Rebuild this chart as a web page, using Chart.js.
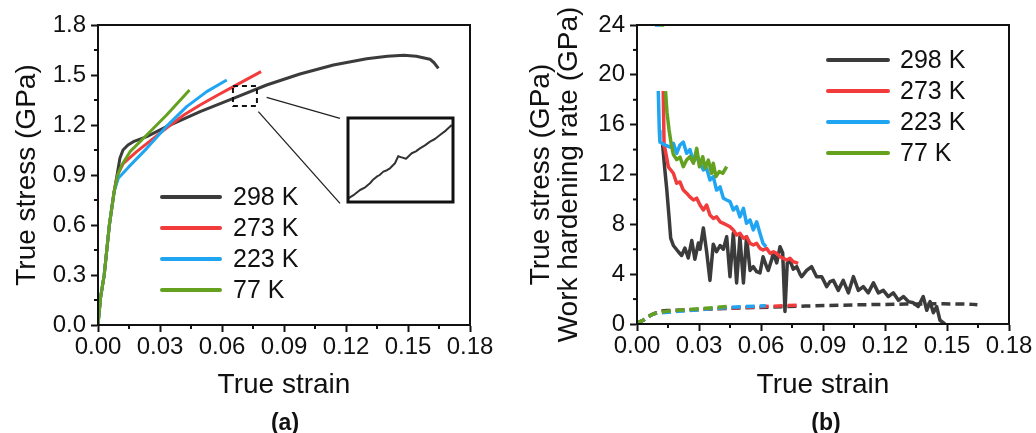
<!DOCTYPE html>
<html><head><meta charset="utf-8">
<script src="https://cdn.jsdelivr.net/npm/chart.js@4.4.1/dist/chart.umd.min.js"></script>
<style>
html,body{margin:0;padding:0;background:#fff;}
#wrap{position:relative;width:1036px;height:433px;overflow:hidden;background:#fff;}
#cA{position:absolute;left:0;top:0;}
#cB{position:absolute;left:520px;top:0;}
#cI{position:absolute;left:346px;top:116px;}
.lab{position:absolute;top:408px;width:60px;text-align:center;font:bold 23px 'Liberation Sans',Arial,sans-serif;line-height:28px;color:#111;}
</style></head>
<body><div id="wrap">
<canvas id="cA" width="500" height="433"></canvas>
<canvas id="cB" width="516" height="433"></canvas>
<canvas id="cI" width="109" height="88"></canvas>
<div class="lab" style="left:255px">(a)</div>
<div class="lab" style="left:796px">(b)</div>
</div>
<script>
// ---------- tick values ----------
const strainTicks = [0, 0.03, 0.06, 0.09, 0.12, 0.15, 0.18];
const stressTicks = [0, 0.3, 0.6, 0.9, 1.2, 1.5, 1.8];
const rateTicks = [0, 4, 8, 12, 16, 20, 24];
const seriesLabels = ['298 K', '273 K', '223 K', '77 K'];

// ---------- (a) true stress-strain ----------
const strain298 = [0, 0.0013, 0.003, 0.0055, 0.0078, 0.0095, 0.0106, 0.0121, 0.0145, 0.0171, 0.0236, 0.0332, 0.0494, 0.0655, 0.0816, 0.0977, 0.1139, 0.130, 0.140, 0.148, 0.154, 0.1606, 0.1625, 0.1647];
const stress298 = [0, 0.17, 0.3, 0.6, 0.8, 0.92, 1.0, 1.05, 1.08, 1.10, 1.13, 1.19, 1.28, 1.36, 1.44, 1.506, 1.56, 1.598, 1.612, 1.618, 1.612, 1.595, 1.575, 1.54];
const strain273 = [0, 0.0013, 0.003, 0.0055, 0.0078, 0.0098, 0.0123, 0.0187, 0.0268, 0.033, 0.0415, 0.0494, 0.058, 0.0655, 0.0789];
const stress273 = [0, 0.17, 0.3, 0.6, 0.8, 0.91, 0.97, 1.04, 1.12, 1.18, 1.26, 1.32, 1.38, 1.43, 1.52];
const strain223 = [0, 0.0013, 0.003, 0.0055, 0.0078, 0.0098, 0.015, 0.0236, 0.033, 0.0429, 0.0526, 0.0623];
const stress223 = [0, 0.17, 0.3, 0.6, 0.8, 0.88, 0.95, 1.06, 1.19, 1.31, 1.40, 1.47];
const strain77 = [0, 0.0013, 0.003, 0.0055, 0.0078, 0.0095, 0.0115, 0.0155, 0.0236, 0.0332, 0.0443];
const stress77 = [0, 0.17, 0.3, 0.6, 0.8, 0.9, 0.96, 1.04, 1.14, 1.26, 1.41];

// zoom window (dashed box) and connector lines, in strain / stress units
const zoomBoxStrain = [0.0653, 0.0769, 0.0769, 0.0653, 0.0653];
const zoomBoxStress = [1.434, 1.434, 1.314, 1.314, 1.434];
const link1Strain = [0.0816, 0.1171];
const link1Stress = [1.366, 1.240];
const link2Strain = [0.0776, 0.1171];
const link2Stress = [1.280, 0.730];

// inset: magnified piece of the 298 K curve
const insetStrainRange = [0.0653, 0.0769];
const insetStressRange = [1.355, 1.425];
const insetStrain = [0.06533, 0.0660, 0.06663, 0.0672, 0.06773, 0.0681, 0.06847, 0.0688, 0.0692, 0.0696, 0.06994, 0.07049, 0.07086, 0.07105, 0.07123, 0.07171, 0.07234, 0.0728, 0.07325, 0.0738, 0.07436, 0.0749, 0.07546, 0.0761, 0.07676];
const insetStress = [1.3581, 1.3612, 1.3650, 1.3672, 1.3706, 1.3738, 1.3761, 1.3775, 1.3803, 1.3815, 1.3831, 1.3873, 1.3933, 1.3925, 1.3922, 1.3911, 1.3956, 1.3972, 1.3997, 1.4022, 1.4053, 1.4075, 1.4108, 1.4145, 1.4192];

// ---------- (b) work hardening rate ----------
const whStrain298 = [0.0124, 0.0134, 0.0144, 0.0156, 0.0163, 0.0176, 0.020, 0.0216, 0.0232, 0.0248, 0.0265, 0.028, 0.0297, 0.0305, 0.0321, 0.0337, 0.0353, 0.0369, 0.0385, 0.0402, 0.0418, 0.0434, 0.045, 0.0466, 0.0482, 0.0498, 0.0515, 0.053, 0.0547, 0.0563, 0.0579, 0.0595, 0.061, 0.0627, 0.0635, 0.0652, 0.066, 0.0676, 0.0692, 0.0705, 0.0716, 0.0727, 0.074, 0.0756, 0.0773, 0.0789, 0.0797, 0.0821, 0.0845, 0.0869, 0.0894, 0.0918, 0.0934, 0.095, 0.0974, 0.0998, 0.1023, 0.1047, 0.1071, 0.1095, 0.1119, 0.1144, 0.1168, 0.1192, 0.1216, 0.124, 0.1265, 0.1289, 0.1313, 0.1337, 0.1361, 0.1385, 0.1402, 0.1418, 0.1434, 0.145, 0.1466, 0.149];
const whRate298 = [14.4, 12.5, 10.8, 8.4, 6.9, 6.3, 5.8, 5.5, 6.1, 5.3, 6.7, 5.2, 6.5, 6.0, 7.7, 5.8, 3.5, 6.4, 5.8, 6.3, 6.0, 7.0, 3.8, 7.3, 3.3, 7.0, 3.3, 7.0, 4.3, 4.6, 4.2, 4.1, 5.4, 4.6, 4.3, 5.2, 5.7, 4.9, 6.2, 5.7, 1.0, 4.9, 5.1, 4.4, 4.6, 4.0, 3.8, 4.3, 4.6, 3.8, 3.8, 3.0, 3.4, 3.5, 2.7, 3.5, 2.5, 3.8, 2.7, 3.0, 2.5, 3.3, 2.5, 2.7, 2.2, 2.5, 1.9, 2.2, 1.8, 1.7, 1.4, 2.2, 1.1, 1.8, 0.9, 1.4, 0.3, 0.0];
const whStrain273 = [0.0127, 0.0131, 0.0135, 0.0152, 0.0176, 0.0192, 0.0208, 0.0224, 0.024, 0.0256, 0.0273, 0.0289, 0.0305, 0.0321, 0.0337, 0.0353, 0.0369, 0.0385, 0.0402, 0.0418, 0.0434, 0.045, 0.0466, 0.0482, 0.0498, 0.0515, 0.053, 0.0547, 0.0563, 0.0579, 0.0595, 0.061, 0.0627, 0.0644, 0.066, 0.0676, 0.0692, 0.0708, 0.0724, 0.074, 0.0756, 0.078];
const whRate273 = [18.7, 14.3, 14.1, 12.6, 12.1, 11.3, 11.4, 10.75, 10.5, 10.2, 9.95, 10.1, 9.55, 9.15, 9.55, 8.75, 8.48, 8.6, 8.2, 8.08, 7.95, 7.8, 7.55, 7.14, 7.28, 6.88, 7.0, 6.47, 6.34, 6.47, 6.07, 5.94, 6.07, 5.67, 5.8, 5.67, 5.4, 5.27, 5.14, 5.27, 5.0, 4.87];
const whStrain223 = [0.0087, 0.0112, 0.0112, 0.0103, 0.0108, 0.0111, 0.0135, 0.016, 0.0176, 0.0192, 0.0208, 0.0224, 0.024, 0.0256, 0.0265, 0.0281, 0.029, 0.0305, 0.0321, 0.0337, 0.0353, 0.0369, 0.0385, 0.0402, 0.0418, 0.0434, 0.045, 0.0466, 0.0482, 0.0498, 0.0515, 0.053, 0.0547, 0.0563, 0.0579, 0.0595, 0.061, 0.0624];
const whRate223 = [24, 24, null, 18.7, 15.5, 14.6, 14.37, 14.2, 14.5, 13.7, 14.37, 14.6, 13.7, 14.0, 13.5, 13.16, 13.6, 12.9, 12.36, 12.5, 11.56, 11.83, 10.75, 11.0, 10.09, 9.95, 9.82, 9.15, 9.42, 8.6, 9.28, 8.08, 8.35, 7.55, 8.2, 7.28, 6.47, 6.2];
const whStrain77 = [0.0112, 0.0131, 0.0131, 0.0138, 0.0145, 0.0155, 0.0165, 0.0176, 0.0192, 0.0208, 0.0224, 0.024, 0.0256, 0.0273, 0.0289, 0.0302, 0.0318, 0.0329, 0.0345, 0.0361, 0.0369, 0.0382, 0.0398, 0.0415, 0.0434];
const whRate77 = [24, 24, null, 18.7, 17.0, 15.6, 14.5, 13.6, 13.2, 13.4, 12.63, 13.16, 13.43, 12.9, 14.1, 12.63, 13.43, 12.5, 13.16, 12.1, 12.9, 11.83, 12.23, 12.1, 12.63];

// ---------- styling ----------
const FONT = "'Liberation Sans', Arial, sans-serif";
const INK = '#111';
const colors = ['#3b3b3b', '#f23c3c', '#1fa5f2', '#63a11f'];
const pts = (xs, ys) => xs.map((x, i) => ({x: x, y: ys[i]}));

const frameMinor = {
  id: 'frameMinor',
  afterDraw(chart, args, opts) {
    const {ctx, chartArea: a} = chart;
    ctx.save();
    ctx.strokeStyle = INK; ctx.lineWidth = 2; ctx.setLineDash([]);
    ctx.strokeRect(a.left, a.top, a.right - a.left, a.bottom - a.top);
    if (opts.minor) {
      ['x', 'y'].forEach(id => {
        const s = chart.scales[id];
        const t = s.ticks;
        for (let i = 0; i < t.length - 1; i++) {
          const p = s.getPixelForValue((t[i].value + t[i + 1].value) / 2);
          ctx.beginPath();
          if (id === 'x') { ctx.moveTo(p, a.bottom); ctx.lineTo(p, a.bottom + 4); }
          else { ctx.moveTo(a.left, p); ctx.lineTo(a.left - 4, p); }
          ctx.stroke();
        }
      });
    }
    ctx.restore();
  }
};

const lineLegend = {
  id: 'lineLegend',
  afterDatasetsDraw(chart, args, opts) {
    if (!opts.show) return;
    const {ctx, chartArea: a} = chart;
    ctx.save();
    let row = 0;
    chart.data.datasets.forEach(ds => {
      if (!ds.inLegend) return;
      const y = a.top + opts.top + row * opts.rowH;
      const x0 = a.left + opts.left;
      ctx.strokeStyle = ds.borderColor; ctx.lineWidth = 4; ctx.lineCap = 'round'; ctx.setLineDash([]);
      ctx.beginPath(); ctx.moveTo(x0, y); ctx.lineTo(x0 + opts.len, y); ctx.stroke();
      ctx.fillStyle = INK; ctx.font = '25px ' + FONT; ctx.textBaseline = 'middle'; ctx.textAlign = 'left';
      ctx.fillText(ds.label, x0 + opts.len + opts.gap, y + 1);
      row++;
    });
    ctx.restore();
  }
};

function xAxis(h) {
  return {
    type: 'linear', min: 0, max: 0.18,
    afterBuildTicks: s => { s.ticks = strainTicks.map(v => ({value: v})); },
    afterFit: s => { s.height = h; },
    ticks: {autoSkip: false, maxRotation: 0, padding: 1, color: INK, font: {family: FONT, size: 24},
            callback: v => Number(v).toFixed(2)},
    grid: {display: true, drawOnChartArea: false, drawTicks: true, tickLength: 7, tickWidth: 2, tickColor: INK, color: INK},
    border: {display: true, color: INK, width: 2},
    title: {display: true, text: 'True strain', color: INK, font: {family: FONT, size: 28, lineHeight: 1.0}, padding: {top: 0, bottom: 34}}
  };
}
function yAxis(min, max, tickArr, fmt, w, title, padTop) {
  return {
    type: 'linear', min: min, max: max,
    afterBuildTicks: s => { s.ticks = tickArr.map(v => ({value: v})); },
    afterFit: s => { s.width = w; },
    ticks: {autoSkip: false, padding: 5, color: INK, font: {family: FONT, size: 24}, callback: fmt},
    grid: {display: true, drawOnChartArea: false, drawTicks: true, tickLength: 7, tickWidth: 2, tickColor: INK, color: INK},
    border: {display: true, color: INK, width: 2},
    title: {display: true, text: title, color: INK, font: {family: FONT, size: 28, lineHeight: 1.0}, padding: {top: padTop, bottom: 0}}
  };
}
const baseOpts = {
  responsive: false, animation: false, events: [],
  elements: {point: {radius: 0}, line: {tension: 0, borderJoinStyle: 'round', borderCapStyle: 'butt'}}
};

// ---------- chart (a) ----------
const stressSets = [[strain298, stress298], [strain273, stress273], [strain223, stress223], [strain77, stress77]];
const dsA = stressSets.map((s, i) => ({
  label: seriesLabels[i], inLegend: true, data: pts(s[0], s[1]), showLine: true,
  borderColor: colors[i], borderWidth: 3, order: 4 - i
}));
dsA.push({label: 'box', data: pts(zoomBoxStrain, zoomBoxStress), showLine: true, borderColor: INK, borderWidth: 2, borderDash: [5, 4], order: 0});
dsA.push({label: 'l1', data: pts(link1Strain, link1Stress), showLine: true, borderColor: '#222', borderWidth: 1.3, order: 0});
dsA.push({label: 'l2', data: pts(link2Strain, link2Stress), showLine: true, borderColor: '#222', borderWidth: 1.3, order: 0});

new Chart(document.getElementById('cA'), {
  type: 'scatter',
  data: {datasets: dsA},
  options: Object.assign({}, baseOpts, {
    layout: {padding: {left: 0, right: 30, top: 25, bottom: 0}},
    scales: {
      x: xAxis(108),
      y: yAxis(0, 1.8, stressTicks, v => Number(v).toFixed(1), 98, 'True stress (GPa)', 13)
    },
    plugins: {legend: {display: false}, tooltip: {enabled: false},
      frameMinor: {minor: true},
      lineLegend: {show: true, left: 64, top: 172, rowH: 31, len: 58, gap: 13}}
  }),
  plugins: [frameMinor, lineLegend]
});

// ---------- inset ----------
new Chart(document.getElementById('cI'), {
  type: 'scatter',
  data: {datasets: [{data: pts(insetStrain, insetStress), showLine: true, borderColor: '#333', borderWidth: 2}]},
  options: Object.assign({}, baseOpts, {
    layout: {padding: 2},
    scales: {
      x: {type: 'linear', display: false, min: insetStrainRange[0], max: insetStrainRange[1]},
      y: {type: 'linear', display: false, min: insetStressRange[0], max: insetStressRange[1]}
    },
    plugins: {legend: {display: false}, tooltip: {enabled: false}, frameMinor: {minor: false}, lineLegend: {show: false}}
  }),
  plugins: [{
    id: 'insetFrame',
    afterDraw(chart) {
      const {ctx, chartArea: a} = chart;
      ctx.save(); ctx.strokeStyle = INK; ctx.lineWidth = 3;
      ctx.strokeRect(a.left, a.top, a.right - a.left, a.bottom - a.top);
      ctx.restore();
    }
  }]
});

// ---------- chart (b) ----------
const rateSets = [[whStrain298, whRate298], [whStrain273, whRate273], [whStrain223, whRate223], [whStrain77, whRate77]];
const dsB = rateSets.map((s, i) => ({
  label: seriesLabels[i], inLegend: true, data: pts(s[0], s[1]), showLine: true, spanGaps: false,
  borderColor: colors[i], borderWidth: 3.5, order: 4 - i
}));
stressSets.forEach((s, i) => dsB.push({
  label: seriesLabels[i] + ' stress', inLegend: false, data: pts(s[0], s[1]), showLine: true,
  borderColor: colors[i], borderWidth: 3.5, borderDash: [9, 5], order: 8 - i
}));

new Chart(document.getElementById('cB'), {
  type: 'scatter',
  data: {datasets: dsB},
  options: Object.assign({}, baseOpts, {
    layout: {padding: {left: 0, right: 27, top: 25, bottom: 0}},
    scales: {
      x: xAxis(109),
      y: yAxis(0, 24, rateTicks, v => String(Math.round(v)), 117, ['True stress (GPa)', 'Work hardening rate (GPa)'], 7)
    },
    plugins: {legend: {display: false}, tooltip: {enabled: false},
      frameMinor: {minor: true},
      lineLegend: {show: true, left: 191, top: 35, rowH: 31, len: 60, gap: 12}}
  }),
  plugins: [frameMinor, lineLegend]
});
</script>
</body></html>
